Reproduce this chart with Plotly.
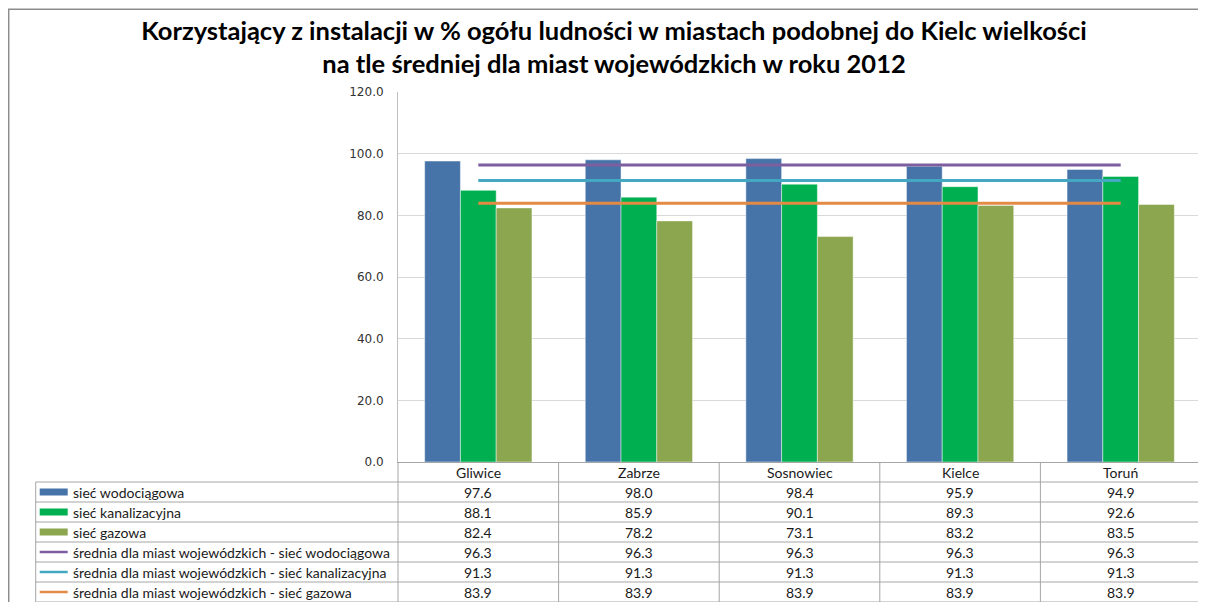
import plotly.graph_objects as go

# data
cities = ["Gliwice", "Zabrze", "Sosnowiec", "Kielce", "Toruń"]
siec_wod = [97.6, 98.0, 98.4, 95.9, 94.9]
siec_kan = [88.1, 85.9, 90.1, 89.3, 92.6]
siec_gaz = [82.4, 78.2, 73.1, 83.2, 83.5]
sr_wod = [96.3, 96.3, 96.3, 96.3, 96.3]
sr_kan = [91.3, 91.3, 91.3, 91.3, 91.3]
sr_gaz = [83.9, 83.9, 83.9, 83.9, 83.9]

bar_series = [("sieć wodociągowa", siec_wod, "#4674A8"),
              ("sieć kanalizacyjna", siec_kan, "#00B050"),
              ("sieć gazowa", siec_gaz, "#8BA64F")]
line_series = [("średnia dla miast wojewódzkich - sieć wodociągowa", sr_wod, "#7D5E9F"),
               ("średnia dla miast wojewódzkich - sieć kanalizacyjna", sr_kan, "#45A8C2"),
               ("średnia dla miast wojewódzkich - sieć gazowa", sr_gaz, "#E38A45")]

title = ("Korzystający z instalacji w % ogółu ludności w miastach podobnej do Kielc wielkości"
         "<br>na tle średniej dla miast wojewódzkich w roku 2012")

# page body margin offsets the figure by 8px; geometry below is in figure pixels
OFF = 8
W, H = 1206, 602
PL, PR, PT, PB = 398.3 - OFF, 1201.3 - OFF, 91.7 - OFF, 461.7 - OFF
GRID = "#A6A6A6"
TXT_FONT = dict(family="Lato", size=14, color="#1a1a1a")


def px_x(px):
    return (px - PL) / (PR - PL)


def px_y(py):
    return (PB - py) / (PB - PT)


fig = go.Figure()

for name, vals, col in bar_series:
    fig.add_trace(go.Bar(x=cities, y=vals, name=name,
                         marker=dict(color=col, line=dict(color="rgba(255,255,255,0.45)", width=1))))

for name, vals, col in line_series:
    fig.add_trace(go.Scatter(x=cities, y=vals, name=name, mode="lines",
                             line=dict(color=col, width=3)))

# data table under the chart
row_h = 20
head_c = PB + row_h / 2
n = len(cities)
shapes = []
annotations = []

for c in cities:
    annotations.append(dict(x=c, xref="x", y=px_y(head_c), yref="paper", text=c,
                            xanchor="center", yanchor="middle",
                            showarrow=False, font=TXT_FONT))

all_rows = [(nm, v, col, "bar") for nm, v, col in bar_series] + \
           [(nm, v, col, "line") for nm, v, col in line_series]
lx0, lx1, ltxt, lleft = 40 - OFF, 68 - OFF, 71 - OFF, 36 - OFF
for r, (nm, vals, col, kind) in enumerate(all_rows):
    top = PB + row_h * (r + 1)
    cy = top + row_h / 2
    for c, v in zip(cities, vals):
        annotations.append(dict(x=c, xref="x", y=px_y(cy), yref="paper", text=f"{v:.1f}",
                                xanchor="center", yanchor="middle",
                                showarrow=False, font=TXT_FONT))
    annotations.append(dict(x=px_x(ltxt), xref="paper", y=px_y(cy), yref="paper", text=nm,
                            xanchor="left", yanchor="middle", showarrow=False, font=TXT_FONT))
    if kind == "bar":
        shapes.append(dict(type="rect", xref="paper", yref="paper",
                           x0=px_x(lx0), x1=px_x(lx1), y0=px_y(cy - 3.5), y1=px_y(cy + 3.5),
                           fillcolor=col, line=dict(width=0)))
    else:
        shapes.append(dict(type="line", xref="paper", yref="paper",
                           x0=px_x(lx0), x1=px_x(lx1), y0=px_y(cy), y1=px_y(cy),
                           line=dict(color=col, width=2.5)))
    # horizontal rule above each row
    shapes.append(dict(type="line", xref="paper", yref="paper",
                       x0=px_x(lleft), x1=1, y0=px_y(top), y1=px_y(top),
                       line=dict(color=GRID, width=1)))

tbl_bottom = PB + row_h * (len(all_rows) + 1)
shapes.append(dict(type="line", xref="paper", yref="paper",
                   x0=px_x(lleft), x1=1, y0=px_y(tbl_bottom), y1=px_y(tbl_bottom),
                   line=dict(color=GRID, width=1)))
# vertical rules
shapes.append(dict(type="line", xref="paper", yref="paper",
                   x0=px_x(lleft), x1=px_x(lleft), y0=px_y(PB + row_h), y1=px_y(tbl_bottom),
                   line=dict(color=GRID, width=1)))
for k in range(n + 1):
    shapes.append(dict(type="line", xref="paper", yref="paper",
                       x0=k / n, x1=k / n, y0=0, y1=px_y(tbl_bottom),
                       line=dict(color=GRID, width=1)))

# outer chart frame
shapes.append(dict(type="rect", xref="paper", yref="paper",
                   x0=px_x(1), x1=px_x(W + 20), y0=px_y(1), y1=px_y(H + 20),
                   line=dict(color="#8C8C8C", width=1.5), fillcolor="rgba(0,0,0,0)"))

fig.update_layout(
    width=W, height=H,
    margin=dict(l=PL, r=W - PR, t=PT, b=H - PB),
    paper_bgcolor="white", plot_bgcolor="white",
    title=dict(text=title, x=(614 - OFF) / W, xanchor="center",
               y=1 - (39.5 - OFF) / H, yanchor="middle",
               font=dict(family="Lato", size=25.5, color="black", weight="bold")),
    barmode="group", bargap=0.332, bargroupgap=0,
    showlegend=False,
    shapes=shapes, annotations=annotations,
)
fig.update_yaxes(range=[0, 120], dtick=20, tickformat=".1f",
                 showgrid=True, gridcolor="#D9D9D9", gridwidth=1,
                 showline=True, linecolor="#BFBFBF", zeroline=False,
                 tickfont=dict(family="DejaVu Sans", size=12, color="#333333"),
                 ticks="", ticklabelstandoff=11)
fig.update_xaxes(showticklabels=False, showline=True, linecolor=GRID,
                 showgrid=False, range=[-0.5, 4.5])

fig.write_html("out.html")
